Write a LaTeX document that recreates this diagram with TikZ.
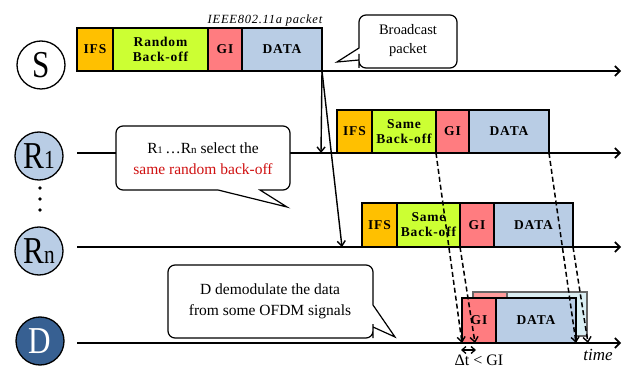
\documentclass[tikz,border=0pt]{standalone}
\usepackage{fontspec}
\setmainfont{Liberation Serif}
\newfontfamily\condfont[FakeStretch=0.82]{Liberation Serif}
\newfontfamily\spacedfont[LetterSpace=6]{Liberation Serif}
\usetikzlibrary{arrows.meta}
\definecolor{ifsc}{HTML}{FFC000}
\definecolor{boffc}{HTML}{CCFF33}
\definecolor{gic}{HTML}{FF7C80}
\definecolor{datac}{HTML}{B9CDE5}
\definecolor{dnode}{HTML}{376092}
\definecolor{gilight}{HTML}{FF9C9C}
\definecolor{datalight}{HTML}{DAEEF3}
\definecolor{redtxt}{HTML}{D01010}
\begin{document}
\begin{tikzpicture}[x=1pt,y=-1pt,
  cell/.style={draw=black, line width=1.4pt, inner sep=0pt, outer sep=0pt, anchor=north west,
    font=\spacedfont\fontsize{13.5}{15}\selectfont\bfseries, align=center},
  backcell/.style={draw=black!60, line width=1.3pt, inner sep=0pt, outer sep=0pt, anchor=north west},
  station/.style={circle, draw=black, line width=1.3pt, minimum size=48pt, inner sep=0pt, font=\condfont\fontsize{38}{38}\selectfont},
  tl/.style={line width=1.6pt, -{Straight Barb[length=5pt,width=10pt,line width=1.6pt]}},
  sarrow/.style={line width=1.4pt, -{Straight Barb[length=5pt,width=8pt,line width=1.4pt]}},
  darrow/.style={line width=1.5pt, dash pattern=on 5pt off 3pt, -{Straight Barb[length=5pt,width=8pt,line width=1.4pt]}},
  bubble/.style={draw=black, line width=1.2pt, fill=white},
  btext/.style={align=center, inner sep=0pt, font=\fontsize{15.5}{21}\selectfont}
]
\useasboundingbox (0,0) rectangle (626,371);

% stations
\node[station, fill=white] (S) at (41,65) {S};
\node[station, fill=datac] (R1) at (39,156) {R{\fontsize{26}{26}\selectfont 1}};
\node[station, fill=datac] (Rn) at (39,251) {R{\fontsize{26}{26}\selectfont n}};
\node[station, fill=dnode, text=white] (D) at (40,341) {D};
\fill (40,188) circle (1.8) (40,199) circle (1.8) (40,210) circle (1.8);

% timelines
\coordinate (sS) at (77,71);  \coordinate (sE) at (621,71);
\coordinate (r1S) at (77,153); \coordinate (r1E) at (621,153);
\coordinate (rnS) at (77,247); \coordinate (rnE) at (621,247);
\coordinate (dS) at (77,343);  \coordinate (dE) at (621,343);
\draw[tl] (sS) -- (sE);
\draw[tl] (r1S) -- (r1E);
\draw[tl] (rnS) -- (rnE);
\draw[tl] (dS) -- (dE);

% S packet
\node[cell, fill=ifsc, minimum width=36, minimum height=43] (sifs) at (77,28) {IFS};
\node[cell, fill=boffc, minimum width=95, minimum height=43] (sbo) at (113,28) {Random\\Back-off};
\node[cell, fill=gic, minimum width=34, minimum height=43] (sgi) at (208,28) {GI};
\node[cell, fill=datac, minimum width=80, minimum height=43] (sdata) at (242,28) {DATA};
\node[font=\spacedfont\fontsize{12.5}{13}\selectfont\itshape, inner sep=0pt] (plabel) at (265,20) {IEEE802.11a packet};

% R1 packet
\node[cell, fill=ifsc, minimum width=35, minimum height=43] (r1ifs) at (337,110) {IFS};
\node[cell, fill=boffc, minimum width=64, minimum height=43] (r1bo) at (372,110) {Same\\Back-off};
\node[cell, fill=gic, minimum width=33, minimum height=43] (r1gi) at (436,110) {GI};
\node[cell, fill=datac, minimum width=80, minimum height=43] (r1data) at (469,110) {DATA};

% Rn packet
\node[cell, fill=ifsc, minimum width=35, minimum height=44] (rnifs) at (362,203) {IFS};
\node[cell, fill=boffc, minimum width=63, minimum height=44] (rnbo) at (397,203) {Same\\Back-off};
\node[cell, fill=gic, minimum width=34, minimum height=44] (rngi) at (460,203) {GI};
\node[cell, fill=datac, minimum width=79, minimum height=44] (rndata) at (494,203) {DATA};

% D packets (back and front)
\node[backcell, fill=gilight, minimum width=34, minimum height=44] (dgib) at (473,292) {};
\node[backcell, fill=datalight, minimum width=80, minimum height=44] (ddatab) at (507,292) {};
\node[cell, fill=gic, minimum width=34, minimum height=45] (dgi) at (462,298) {GI};
\node[cell, fill=datac, minimum width=80, minimum height=45] (ddata) at (496,298) {DATA};

% solid arrows from S
\coordinate (r1hit) at (321,153);
\coordinate (rnhit) at (342,247);
\draw[sarrow] (sdata.south east) -- (r1hit);
\draw[sarrow] (sdata.south east) -- (rnhit);

% dashed arrows to D
\coordinate (dh1) at (462,343);
\coordinate (dh2) at (576,343);
\coordinate (dh3) at (475,343);
\coordinate (dh4) at (588,343);
\draw[darrow] (r1gi.south west) -- (dh1);
\draw[darrow] (r1data.south east) -- (dh2);
\draw[darrow] (rngi.south west) -- (dh3);
\draw[darrow] (rndata.south east) -- (dh4);

% delta t
\coordinate (dt1) at (461,350);
\coordinate (dt2) at (476,350);
\draw[line width=1.3pt, {Straight Barb[length=4pt,width=7pt,line width=1.3pt]}-{Straight Barb[length=4pt,width=7pt,line width=1.3pt]}] (dt1) -- (dt2);
\node[font=\fontsize{16}{16}\selectfont, anchor=north, inner sep=0pt] (dtl) at (479,355) {Δt < GI};
\node[font=\fontsize{17}{17}\selectfont\itshape, anchor=north, inner sep=0pt] (timel) at (598,349) {time};

% bubbles
\draw[bubble] (359,48) [rounded corners=7] -- (359,15) -- (457,15) -- (457,68) -- (359,68) -- (359,61) [sharp corners] -- (359,60) -- (337,62) -- cycle;
\node[btext, font=\fontsize{14.5}{19}\selectfont] (bcast) at (408,41) {Broadcast\\packet};

\draw[bubble] (218,190) [rounded corners=7] -- (116,190) -- (116,126) -- (290,126) -- (290,190) -- (271,190) [sharp corners] -- (260,190) -- (287,207) -- cycle;
\node[btext] (sel) at (203,159) {R{\fontsize{10}{10}\selectfont 1}\,…R{\fontsize{11}{11}\selectfont n} select the\\\textcolor{redtxt}{same random back-off}};

\draw[bubble] (373,305) [rounded corners=7] -- (373,265) -- (168,265) -- (168,338) -- (373,338) -- (373,331) [sharp corners] -- (373,327) -- (395,337) -- cycle;
\node[btext] (dem) at (270,301) {D demodulate the data\\from some OFDM signals};
\end{tikzpicture}
\end{document}
